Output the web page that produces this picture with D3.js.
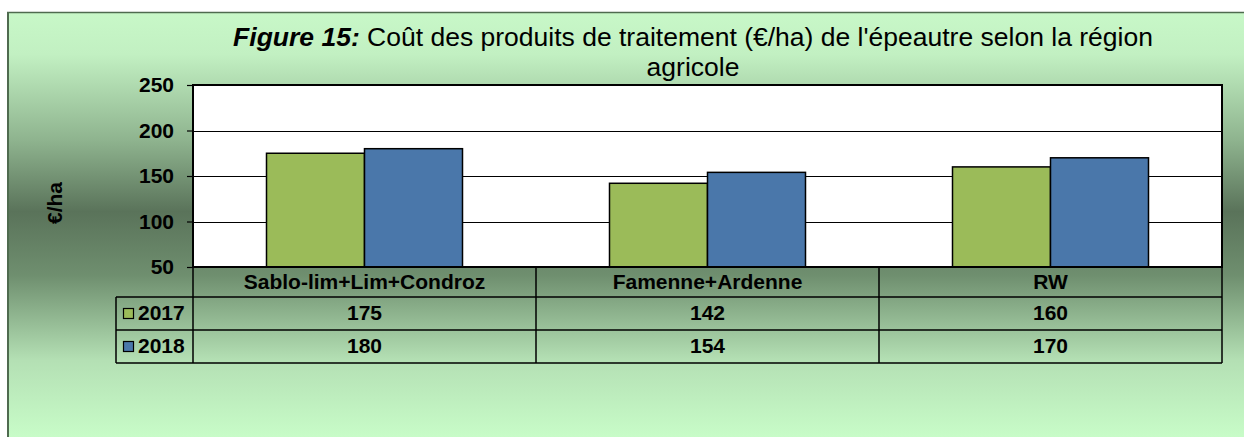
<!DOCTYPE html>
<html>
<head>
<meta charset="utf-8">
<script src="https://cdn.jsdelivr.net/npm/d3@7"></script>
<style>
  html, body { margin: 0; padding: 0; background: #ffffff; }
  svg { display: block; }
  text { font-family: "Liberation Sans", Arial, sans-serif; }
</style>
</head>
<body>
<svg id="chart" width="1244" height="437"></svg>
<script>
// ---- data ----
const categories = ["Sablo-lim+Lim+Condroz", "Famenne+Ardenne", "RW"];
const seriesNames = ["2017", "2018"];
const values2017 = [175, 142, 160];
const values2018 = [180, 154, 170];
const yTicks = [50, 100, 150, 200, 250];
const colors = ["#9bbb59", "#4a77aa"];

const series = [
  { name: seriesNames[0], values: values2017, color: colors[0] },
  { name: seriesNames[1], values: values2018, color: colors[1] }
];

const svg = d3.select("#chart");
const W = 1244, H = 437;

// ---- background frame with gradient ----
const defs = svg.append("defs");
const grad = defs.append("linearGradient").attr("id", "bg")
  .attr("x1", 0).attr("y1", 0).attr("x2", 0).attr("y2", 1);
[[0, "#c8f8c8"], [0.1, "#c2f0c2"], [0.3, "#8fb48f"], [0.47, "#5a735a"],
 [0.62, "#6f8f6f"], [0.82, "#b4e0b4"], [1, "#c8fcc8"]]
  .forEach(([o, c]) => grad.append("stop").attr("offset", o).attr("stop-color", c));

const frame = { x: 7, y: 12 };
svg.append("rect").attr("x", frame.x).attr("y", frame.y)
  .attr("width", W - frame.x).attr("height", H - frame.y)
  .attr("fill", "url(#bg)");
svg.append("line").attr("x1", frame.x).attr("x2", W).attr("y1", frame.y + 0.5).attr("y2", frame.y + 0.5)
  .attr("stroke", "#4f6b4f").attr("stroke-width", 1.5);
svg.append("line").attr("x1", frame.x + 1).attr("x2", frame.x + 1).attr("y1", frame.y).attr("y2", H)
  .attr("stroke", "#4f6b4f").attr("stroke-width", 2);

// ---- plot geometry ----
const plot = { left: 193, right: 1222, top: 85, bottom: 267 };

const x = d3.scaleBand().domain(categories).range([plot.left, plot.right]).paddingInner(0).paddingOuter(0);
const bw = x.bandwidth() / 3.5;
const x1 = d3.scaleBand().domain(seriesNames).range([0, 2 * bw]);
const y = d3.scaleLinear().domain([50, 250]).range([plot.bottom, plot.top]);

// plot background
svg.append("rect").attr("x", plot.left).attr("y", plot.top)
  .attr("width", plot.right - plot.left).attr("height", plot.bottom - plot.top)
  .attr("fill", "#ffffff");

// gridlines
svg.append("g").selectAll("line").data(yTicks.filter(t => t > 50 && t < 250)).join("line")
  .attr("x1", plot.left).attr("x2", plot.right)
  .attr("y1", d => Math.round(y(d)) + 0.5).attr("y2", d => Math.round(y(d)) + 0.5)
  .attr("stroke", "#000").attr("stroke-width", 1);

// bars
const groups = svg.append("g").selectAll("g").data(categories).join("g")
  .attr("transform", c => `translate(${x(c) + (x.bandwidth() - 2 * bw) / 2},0)`);
groups.selectAll("rect").data((c, i) => series.map(s => ({ name: s.name, value: s.values[i], color: s.color })))
  .join("rect")
  .attr("x", d => x1(d.name))
  .attr("width", x1.bandwidth())
  .attr("y", d => y(d.value))
  .attr("height", d => y(50) - y(d.value))
  .attr("fill", d => d.color)
  .attr("stroke", "#000").attr("stroke-width", 1.5);

// plot border
svg.append("rect").attr("x", plot.left).attr("y", plot.top)
  .attr("width", plot.right - plot.left).attr("height", plot.bottom - plot.top)
  .attr("fill", "none").attr("stroke", "#000").attr("stroke-width", 2);

// y axis
const yAxis = d3.axisLeft(y).tickValues(yTicks).tickSize(6).tickSizeOuter(0).tickPadding(13);
const ya = svg.append("g").attr("transform", `translate(${plot.left},0)`).call(yAxis);
ya.select(".domain").remove();
ya.selectAll(".tick line").attr("stroke", "#000").attr("stroke-width", 1.2);
ya.selectAll(".tick text").attr("fill", "#000")
  .style("font-family", "'Liberation Sans', Arial, sans-serif")
  .style("font-size", "21px").style("font-weight", "bold");

// y title
svg.append("text").attr("transform", "translate(62,203) rotate(-90)")
  .attr("text-anchor", "middle")
  .style("font-size", "21px").style("font-weight", "bold").text("€/ha");

// ---- data table ----
const rowTop = [267, 297, 330];
const rowBottom = 363;
const legendLeft = 116;
const tbl = svg.append("g");
const lineStyle = sel => sel.attr("stroke", "#000").attr("stroke-width", 1.5);

// horizontal lines
[297, 330, 363].forEach(yy => {
  tbl.append("line").attr("x1", legendLeft).attr("x2", plot.right).attr("y1", yy).attr("y2", yy).call(lineStyle);
});
// vertical lines
tbl.append("line").attr("x1", legendLeft).attr("x2", legendLeft).attr("y1", 297).attr("y2", rowBottom).call(lineStyle);
const vx = [plot.left, ...categories.map(c => x(c) + x.bandwidth())];
vx.forEach(xx => {
  tbl.append("line").attr("x1", xx).attr("x2", xx).attr("y1", plot.bottom).attr("y2", rowBottom).call(lineStyle);
});

// header
tbl.selectAll("text.hdr").data(categories).join("text").attr("class", "hdr")
  .attr("x", c => x(c) + x.bandwidth() / 2).attr("y", 289)
  .attr("text-anchor", "middle").style("font-size", "21px").style("font-weight", "bold")
  .text(c => c);

// rows
const rowBase = [320, 353];
series.forEach((s, si) => {
  tbl.selectAll(`text.v${si}`).data(s.values).join("text").attr("class", `v${si}`)
    .attr("x", (v, i) => x(categories[i]) + x.bandwidth() / 2).attr("y", rowBase[si])
    .attr("text-anchor", "middle").style("font-size", "21px").style("font-weight", "bold")
    .text(v => v);
  tbl.append("rect").attr("x", 123.5).attr("y", rowTop[si + 1] + 11.5).attr("width", 10).attr("height", 10)
    .attr("fill", s.color).attr("stroke", "#000").attr("stroke-width", 1.2);
  tbl.append("text").attr("x", 138).attr("y", rowBase[si])
    .style("font-size", "21px").style("font-weight", "bold").text(s.name);
});

// ---- title ----
const title = svg.append("text").attr("x", 693).attr("y", 46).attr("text-anchor", "middle")
  .style("font-size", "26.5px");
title.append("tspan").style("font-weight", "bold").style("font-style", "italic").text("Figure 15:");
title.append("tspan").text(" Coût des produits de traitement (€/ha) de l'épeautre selon la région");
svg.append("text").attr("x", 693).attr("y", 76).attr("text-anchor", "middle")
  .style("font-size", "26.5px").text("agricole");
</script>
</body>
</html>
